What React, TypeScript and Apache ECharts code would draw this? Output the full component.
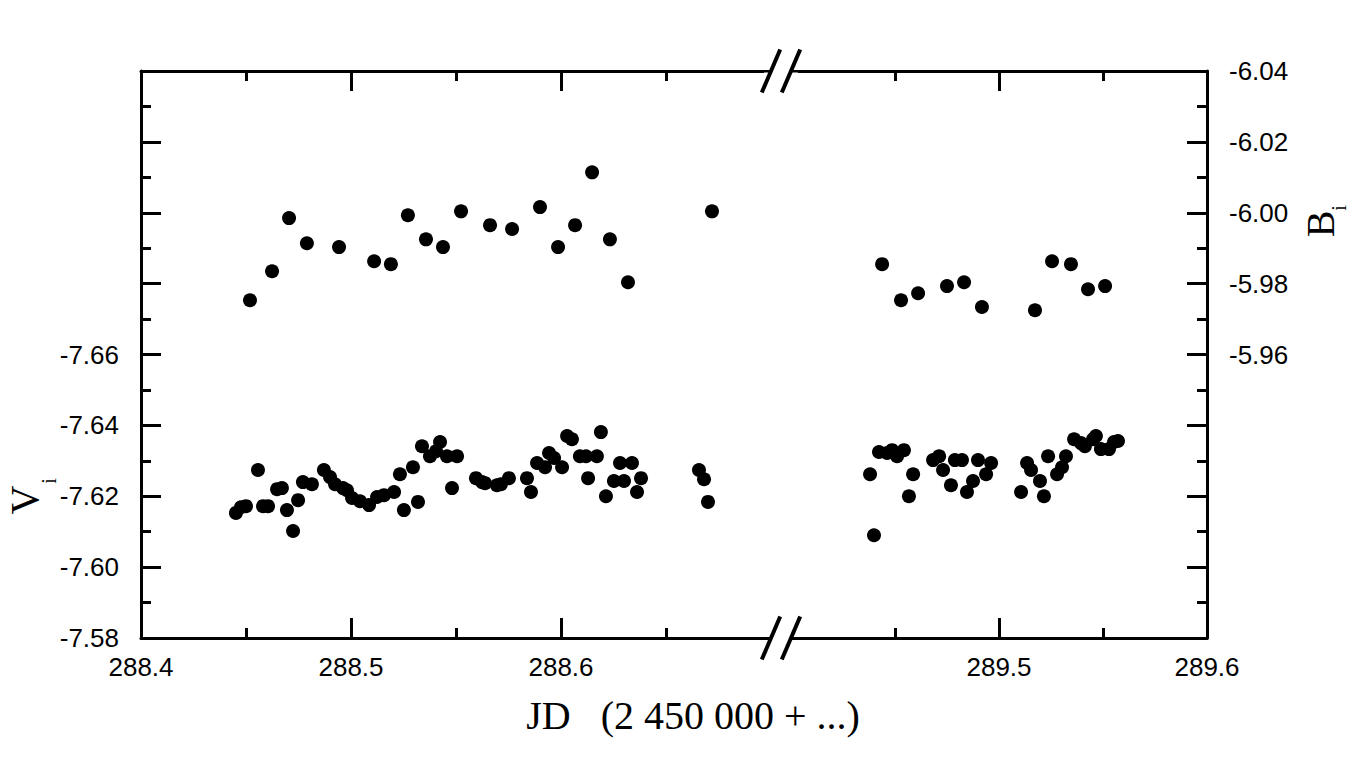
import React, { useEffect, useRef } from 'react';
import * as echarts from 'echarts';

// Julian date (2 450 000 + ...) and magnitudes
const V_LEFT: [number, number][] = [
  [288.4452, -7.6153], [288.4476, -7.6169], [288.4500, -7.6172], [288.4557, -7.6274],
  [288.4581, -7.6172], [288.4605, -7.6172], [288.4648, -7.6220], [288.4671, -7.6223],
  [288.4695, -7.6161], [288.4724, -7.6102], [288.4748, -7.6189], [288.4771, -7.6240],
  [288.4814, -7.6234], [288.4871, -7.6274], [288.4900, -7.6254], [288.4924, -7.6234],
  [288.4962, -7.6223], [288.4981, -7.6217], [288.5005, -7.6195], [288.5043, -7.6186],
  [288.5086, -7.6175], [288.5124, -7.6198], [288.5157, -7.6203], [288.5205, -7.6212],
  [288.5233, -7.6262], [288.5252, -7.6161], [288.5295, -7.6282], [288.5319, -7.6184],
  [288.5338, -7.6341], [288.5376, -7.6313], [288.5405, -7.6327], [288.5424, -7.6353],
  [288.5457, -7.6313], [288.5481, -7.6223], [288.5505, -7.6313], [288.5595, -7.6251],
  [288.5624, -7.6240], [288.5638, -7.6237], [288.5695, -7.6231], [288.5714, -7.6234],
  [288.5752, -7.6251], [288.5838, -7.6251], [288.5857, -7.6212], [288.5886, -7.6294],
  [288.5924, -7.6282], [288.5943, -7.6322], [288.5967, -7.6308], [288.6005, -7.6282],
  [288.6029, -7.6370], [288.6052, -7.6361], [288.6090, -7.6313], [288.6119, -7.6313],
  [288.6129, -7.6251], [288.6171, -7.6313], [288.6190, -7.6381], [288.6214, -7.6200],
  [288.6252, -7.6243], [288.6281, -7.6294], [288.6300, -7.6243], [288.6338, -7.6294],
  [288.6362, -7.6212], [288.6381, -7.6251], [288.6657, -7.6274], [288.6681, -7.6248],
  [288.6700, -7.6184],
];

const V_RIGHT: [number, number][] = [
  [289.4380, -7.6262], [289.4399, -7.6090], [289.4423, -7.6325], [289.4462, -7.6322],
  [289.4486, -7.6330], [289.4510, -7.6313], [289.4543, -7.6330], [289.4567, -7.6200],
  [289.4587, -7.6262], [289.4683, -7.6302], [289.4712, -7.6313], [289.4731, -7.6274],
  [289.4769, -7.6231], [289.4788, -7.6302], [289.4822, -7.6302], [289.4846, -7.6212],
  [289.4875, -7.6243], [289.4899, -7.6302], [289.4938, -7.6262], [289.4962, -7.6294],
  [289.5106, -7.6212], [289.5135, -7.6294], [289.5154, -7.6274], [289.5197, -7.6243],
  [289.5216, -7.6200], [289.5236, -7.6313], [289.5279, -7.6262], [289.5303, -7.6282],
  [289.5322, -7.6313], [289.5361, -7.6361], [289.5394, -7.6350], [289.5413, -7.6341],
  [289.5452, -7.6361], [289.5466, -7.6370], [289.5490, -7.6333], [289.5529, -7.6333],
  [289.5553, -7.6353], [289.5572, -7.6356],
];

const B_LEFT: [number, number][] = [
  [288.4519, -5.9753], [288.4624, -5.9835], [288.4705, -5.9985], [288.4790, -5.9914],
  [288.4943, -5.9903], [288.5110, -5.9863], [288.5190, -5.9855], [288.5271, -5.9993],
  [288.5357, -5.9925], [288.5438, -5.9903], [288.5524, -6.0004], [288.5662, -5.9965],
  [288.5767, -5.9954], [288.5900, -6.0016], [288.5986, -5.9903], [288.6067, -5.9965],
  [288.6148, -6.0114], [288.6233, -5.9925], [288.6319, -5.9804], [288.6719, -6.0004],
];

const B_RIGHT: [number, number][] = [
  [289.4438, -5.9855], [289.4529, -5.9753], [289.4611, -5.9773], [289.4750, -5.9793],
  [289.4832, -5.9804], [289.4918, -5.9734], [289.5173, -5.9725], [289.5255, -5.9863],
  [289.5346, -5.9855], [289.5428, -5.9784], [289.5510, -5.9793],
];

// axis ranges
const X_LEFT_RANGE = [288.4, 288.7];
const X_RIGHT_RANGE = [289.4, 289.6];
const V_RANGE = [-7.74, -7.58];
const B_RANGE = [-6.04, -5.88];

const SANS = 'Liberation Sans, Arial, sans-serif';
const SERIF = 'Liberation Serif, Times New Roman, serif';

const GRID_TOP = 71;
const GRID_H = 567;
const LEFT_X0 = 141;
const LEFT_W = 630;
const RIGHT_X0 = 791;
const RIGHT_W = 416;
const AX_BOTTOM = GRID_TOP + GRID_H;

const lineStyle = { color: '#000', width: 3 };

function xAxis(grid: number, range: number[], pos: 'top' | 'bottom', labelFn: ((v: number) => string) | null) {
  return {
    type: 'value',
    gridIndex: grid,
    position: pos,
    min: range[0],
    max: range[1],
    interval: 0.1,
    axisLine: { show: true, onZero: false, lineStyle },
    axisTick: { show: true, inside: true, length: 20, lineStyle },
    minorTick: { show: true, splitNumber: 2, length: 10, lineStyle },
    splitLine: { show: false },
    minorSplitLine: { show: false },
    axisLabel: labelFn
      ? { show: true, formatter: labelFn, fontFamily: SANS, fontSize: 26, color: '#000', margin: 16 }
      : { show: false },
  };
}

function yAxis(grid: number, range: number[], pos: 'left' | 'right', visible: boolean, labelFn: ((v: number) => string) | null) {
  return {
    type: 'value',
    gridIndex: grid,
    position: pos,
    min: range[0],
    max: range[1],
    interval: 0.02,
    inverse: true,
    show: visible,
    axisLine: { show: true, onZero: false, lineStyle },
    axisTick: { show: true, inside: true, length: 20, lineStyle },
    minorTick: { show: true, splitNumber: 2, length: 10, lineStyle },
    splitLine: { show: false },
    minorSplitLine: { show: false },
    axisLabel: labelFn
      ? { show: true, formatter: labelFn, fontFamily: SANS, fontSize: 26, color: '#000', margin: 22 }
      : { show: false },
  };
}

function scatter(data: [number, number][], xi: number, yi: number) {
  return {
    type: 'scatter',
    xAxisIndex: xi,
    yAxisIndex: yi,
    data,
    symbol: 'circle',
    symbolSize: 14,
    itemStyle: { color: '#000', opacity: 1 },
    emphasis: { disabled: true },
  };
}

function breakMarks(yc: number) {
  const h = 21.5;
  const dx = 9.2;
  return [
    { type: 'rect', z: 100, shape: { x: 771, y: yc - 5, width: 20, height: 10 }, style: { fill: '#fff' } },
    { type: 'line', z: 101, shape: { x1: 771 - dx, y1: yc + h, x2: 771 + dx, y2: yc - h }, style: { stroke: '#000', lineWidth: 4 } },
    { type: 'line', z: 101, shape: { x1: 791 - dx, y1: yc + h, x2: 791 + dx, y2: yc - h }, style: { stroke: '#000', lineWidth: 4 } },
  ];
}

export default function App() {
  const ref = useRef<HTMLDivElement>(null);
  useEffect(() => {
    document.body.style.margin = '0';
    const chart = echarts.init(ref.current!, null, { renderer: 'svg' });
    const option: any = {
      animation: false,
      backgroundColor: '#fff',
      grid: [
        { left: LEFT_X0, top: GRID_TOP, width: LEFT_W, height: GRID_H },
        { left: RIGHT_X0, top: GRID_TOP, width: RIGHT_W, height: GRID_H },
      ],
      xAxis: [
        xAxis(0, X_LEFT_RANGE, 'bottom', (v: number) => (v > 288.65 ? '' : v.toFixed(1))),
        xAxis(0, X_LEFT_RANGE, 'top', null),
        xAxis(1, X_RIGHT_RANGE, 'bottom', (v: number) => (v < 289.45 ? '' : v.toFixed(1))),
        xAxis(1, X_RIGHT_RANGE, 'top', null),
      ],
      yAxis: [
        yAxis(0, V_RANGE, 'left', true, (v: number) => (v >= -7.665 ? v.toFixed(2) : '')),
        yAxis(0, B_RANGE, 'right', false, null),
        yAxis(1, V_RANGE, 'left', false, null),
        yAxis(1, B_RANGE, 'right', true, (v: number) => (v <= -5.955 ? v.toFixed(2) : '')),
      ],
      series: [
        scatter(V_LEFT, 0, 0),
        scatter(B_LEFT, 0, 1),
        scatter(V_RIGHT, 2, 2),
        scatter(B_RIGHT, 2, 3),
      ],
      graphic: [
        // hide the edge ticks at the axis break
        { type: 'rect', z: 99, shape: { x: 764, y: GRID_TOP + 1.6, width: 34, height: 24 }, style: { fill: '#fff' } },
        { type: 'rect', z: 99, shape: { x: 764, y: AX_BOTTOM - 25.6, width: 34, height: 24 }, style: { fill: '#fff' } },
        ...breakMarks(GRID_TOP),
        ...breakMarks(AX_BOTTOM),
        {
          type: 'text', z: 102, x: 693, y: 715,
          style: { text: 'JD   (2 450 000 + ...)', font: `40px ${SERIF}`, fill: '#000', textAlign: 'center', textVerticalAlign: 'middle' },
        },
        {
          type: 'text', z: 102, x: 24, y: 500, rotation: Math.PI / 2,
          style: { text: 'V', font: `40px ${SERIF}`, fill: '#000', textAlign: 'center', textVerticalAlign: 'middle' },
        },
        {
          type: 'text', z: 102, x: 49, y: 481, rotation: Math.PI / 2,
          style: { text: 'i', font: `20px ${SERIF}`, fill: '#000', textAlign: 'center', textVerticalAlign: 'middle' },
        },
        {
          type: 'text', z: 102, x: 1320, y: 224, rotation: Math.PI / 2,
          style: { text: 'B', font: `40px ${SERIF}`, fill: '#000', textAlign: 'center', textVerticalAlign: 'middle' },
        },
        {
          type: 'text', z: 102, x: 1339, y: 208, rotation: Math.PI / 2,
          style: { text: 'i', font: `20px ${SERIF}`, fill: '#000', textAlign: 'center', textVerticalAlign: 'middle' },
        },
      ],
    };
    chart.setOption(option);
    return () => chart.dispose();
  }, []);
  return (
    <div
      ref={ref}
      style={{ position: 'absolute', left: 0, top: 0, width: 1350, height: 780, background: '#fff' }}
    />
  );
}
